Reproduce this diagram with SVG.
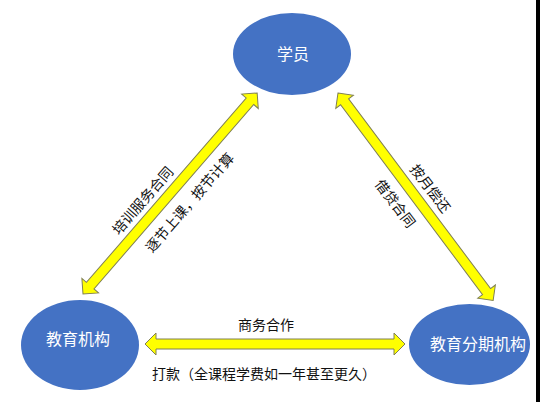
<svg xmlns="http://www.w3.org/2000/svg" width="540" height="402" viewBox="0 0 540 402">
<style>
.node{fill:#4472C4;}
.nl{font-family:"Noto Sans CJK SC","Noto Sans",sans-serif;font-size:16px;fill:#ffffff;text-anchor:middle;dominant-baseline:central;}
.arr{fill:#FFFF00;stroke:#7f7f55;stroke-width:1;stroke-linejoin:miter;}
.lbl{font-family:"Noto Sans CJK SC","Noto Sans",sans-serif;font-size:14px;fill:#111111;text-anchor:middle;dominant-baseline:central;}
</style>
<rect x="0" y="0" width="540" height="402" fill="#ffffff"/>
<rect x="536" y="0" width="4" height="402" fill="#000000"/>
<g id="connectors">
<polygon class="arr" transform="translate(83,294) rotate(-49.1)" points="0,0 11,-11 11,-5 255,-5 255,-11 266,0 255,11 255,5 11,5 11,11"/>
<polygon class="arr" transform="translate(338,93) rotate(53.2)" points="0,0 11,-11 11,-5 248,-5 248,-11 259,0 248,11 248,5 11,5 11,11"/>
<polygon class="arr" transform="translate(145,344)" points="0,0 11,-11 11,-5 249,-5 249,-11 260,0 249,11 249,5 11,5 11,11"/>
<text class="lbl" transform="translate(142,200) rotate(-49)">培训服务合同</text>
<text class="lbl" transform="translate(189,202) rotate(-49)">逐节上课，按节计算</text>
<text class="lbl" transform="translate(431,188) rotate(53)">按月偿还</text>
<text class="lbl" transform="translate(396,203) rotate(53)">借贷合同</text>
<text class="lbl" x="266" y="324">商务合作</text>
<text class="lbl" x="264" y="373">打款（全课程学费如一年甚至更久）</text>
</g>
<g id="student">
<ellipse class="node" cx="292" cy="54" rx="59" ry="41"/>
<text class="nl" x="293" y="53">学员</text>
</g>
<g id="edu-org">
<ellipse class="node" cx="80" cy="345" rx="59" ry="45"/>
<text class="nl" x="78" y="338">教育机构</text>
</g>
<g id="installment-org">
<ellipse class="node" cx="469.5" cy="344.5" rx="60.5" ry="40.5"/>
<text class="nl" x="478" y="343">教育分期机构</text>
</g>
</svg>
